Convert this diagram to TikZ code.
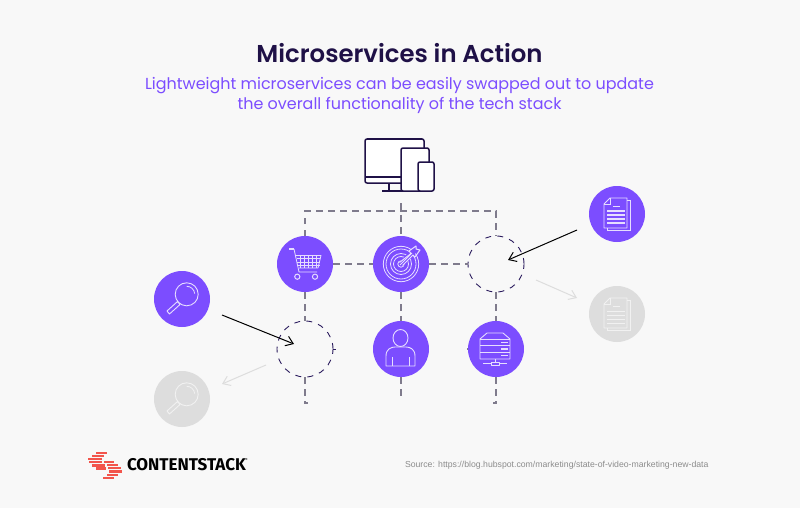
\documentclass[tikz,border=0pt]{standalone}
\usepackage{fontspec}
\setmainfont{Poppins}
\newfontfamily\logofont{Fira Sans}
\newfontfamily\srcfont{Liberation Sans}
\usetikzlibrary{arrows.meta}
\definecolor{bgc}{HTML}{F8F8F8}
\definecolor{titlec}{HTML}{1F1147}
\definecolor{subc}{HTML}{7C4DFF}
\definecolor{purp}{HTML}{7C4DFF}
\definecolor{grayc}{HTML}{DDDDDD}
\definecolor{dashc}{HTML}{7F7B8C}
\definecolor{ringc}{HTML}{2B1C5E}
\definecolor{iconl}{HTML}{E6DDFF}
\definecolor{iconx}{HTML}{F1F1F1}
\definecolor{redc}{HTML}{F2554C}
\tikzset{
  x=1pt,y=-1pt,
  svc/.style={circle,fill=purp,minimum size=56pt,inner sep=0pt,outer sep=0pt},
  ghost/.style={circle,fill=grayc,minimum size=56pt,inner sep=0pt,outer sep=0pt},
  ring/.style={circle,draw=ringc,line width=0.9pt,dash pattern=on 6pt off 6.2pt,minimum size=56pt,inner sep=0pt,outer sep=0pt},
  link/.style={draw=dashc,line width=1.25pt,dash pattern=on 6.5pt off 5.5pt},
  swapin/.style={draw=black,line width=1pt,-{Straight Barb[length=7pt,width=10pt,line width=1pt]}},
  swapout/.style={draw=grayc,line width=1pt,-{Straight Barb[length=7pt,width=10pt,line width=1pt]}},
  ico/.style={draw=iconl,line width=0.8pt,line join=round},
  dev/.style={draw=titlec,line width=1.5pt,fill=white,rounded corners=2pt},
  lbl/.style={inner sep=0pt,outer sep=0pt,anchor=center},
  stripe/.style={fill=redc,draw=none},
  pics/mag/.style args={#1}{code={
    \draw[draw=#1,line width=0.9pt] (4.7,-4.7) circle (11.5);
    \draw[draw=#1,line width=0.8pt] (4.7,-12.7) arc (-90:-5:8);
    \draw[draw=#1,line width=0.9pt,line join=round] (-4.5,2.5) -- (-15,12) -- (-12.5,15) -- (-2,5.5) -- cycle;
  }},
  pics/docu/.style args={#1/#2}{code={
    \draw[draw=#1,line width=0.8pt,line join=round] (-13,-10) -- (-7,-16) -- (10,-16) -- (10,14) -- (-13,14) -- cycle;
    \draw[draw=#1,line width=0.8pt] (-13,-10) -- (-7,-10) -- (-7,-16);
    \draw[draw=#1,line width=0.8pt] (10,-14) -- (13,-14) -- (13,16) -- (-10,16) -- (-10,14);
    \draw[draw=#1,line width=1pt] (-4,-8) -- (3,-8);
    \foreach \yy in {-3,1,5,9}{\draw[draw=#1,line width=#2] (-10,\yy) -- (8,\yy);}
  }}
}
\begin{document}
\begin{tikzpicture}
\useasboundingbox (0,0) rectangle (800,508);
\fill[bgc] (0,0) rectangle (800,508);

\node[lbl,text=titlec,font=\fontsize{24.4pt}{28pt}\selectfont\fontspec{Poppins SemiBold}] (title) at (399.5,53) {Microservices in Action};
\node[lbl,text=subc,font=\fontsize{15.96pt}{19pt}\selectfont] (sub1) at (399.5,86) {Lightweight microservices can be easily swapped out to update};
\node[lbl,text=subc,font=\fontsize{15.96pt}{19pt}\selectfont] (sub2) at (399.5,105) {the overall functionality of the tech stack};

% service nodes
\node[svc] (cart) at (305,264) {};
\node[svc] (target) at (401,264) {};
\node[ring] (slotA) at (496,264) {};
\node[ring] (slotB) at (305,349) {};
\node[svc] (person) at (401,349) {};
\node[svc] (server) at (496,349) {};
\node[svc] (docnew) at (617,214) {};
\node[svc] (magnew) at (182,299) {};
\node[ghost] (docold) at (617,314) {};
\node[ghost] (magold) at (182,399) {};

% device icon
\coordinate (devbase) at (401,203);
\draw[dev] (365,139) rectangle (424,183);
\draw[titlec,line width=1.5pt] (365,177) -- (401,177);
\draw[titlec,line width=1.5pt] (389,183) -- (389,191);
\draw[titlec,line width=1.5pt] (382,191) -- (420,191);
\draw[dev] (401,148) rectangle (429,191);
\draw[dev] (418,162) rectangle (434,191);

% connectors
\coordinate (tl) at (305,211);
\coordinate (tm) at (401,211);
\coordinate (tr) at (496,211);
\coordinate (endA) at (305,403);
\coordinate (endB) at (496,403);
\coordinate (endC) at (401,400);
\coordinate (tickA) at (336,349);
\coordinate (tickB) at (467,349);
\draw[link] (cart.north) -- (tl) -- (tm) -- (tr) -- (slotA.north);
\draw[link] (devbase) -- (tm) -- (target.north);
\draw[link] (cart.east) -- (target.west);
\draw[link] (target.east) -- (slotA.west);
\draw[link] (cart.south) -- (slotB.north);
\draw[link] (target.south) -- (person.north);
\draw[link] (slotA.south) -- (server.north);
\draw[link] (slotB.south) -- (endA) -- ++(3,0);
\draw[link] (person.south) -- (endC);
\draw[link] (server.south) -- (endB) -- ++(-3,0);
\draw[ringc,line width=0.9pt] (slotB.east) -- (tickA);
\draw[dashc,line width=1.2pt] (server.west) -- (tickB);

% cart icon
\begin{scope}[shift={(cart.center)}]
\draw[ico,line width=1.6pt] (-16,-15) -- (-11,-15);
\draw[ico] (-11,-15) -- (-6,8) -- (12,8);
\draw[ico] (-9.5,-8.5) -- (16,-8.5) -- (13,4) -- (-6.5,4);
\foreach \xx in {-5,-1,3,7,11}{\draw[ico,line width=0.7pt] (\xx,-8.5) -- (\xx,4);}
\foreach \yy in {-5.5,-2,1}{\draw[ico,line width=0.7pt] (-8,\yy) -- (15,\yy);}
\draw[ico,line width=1pt] (-7.7,12.7) circle (2.6);
\draw[ico,line width=1pt] (10,12.7) circle (2.6);
\end{scope}

% target icon
\begin{scope}[shift={(target.center)}]
\draw[ico] (0,0) circle (17.7);
\draw[ico] (0,0) circle (15);
\draw[ico] (0,0) circle (10.5);
\draw[ico] (0,0) circle (7.5);
\draw[ico] (0,0) circle (3.2);
\draw[purp,line width=5pt] (0,0) -- (14,-14);
\draw[ico,line width=1pt] (-1,1) -- (11,-11);
\draw[ico,line width=1pt] (1.5,1.5) -- (12,-9) -- (14,-7) -- (19,-14) -- (15,-15) -- (15,-18) -- (8,-13) -- (10,-10.5) -- (-1.5,-1.5);
\end{scope}

% person icon
\begin{scope}[shift={(person.center)}]
\draw[ico,line width=0.9pt] (-0.5,-11) ellipse (7.5 and 8.5);
\draw[ico,line width=0.9pt] (-15,17) -- (-15,7) .. controls (-15,0) and (-10,-2) .. (-6,-2) -- (5,-2) .. controls (9,-2) and (14,0) .. (14,7) -- (14,17) -- cycle;
\draw[ico] (-9,17) -- (-9,8);
\draw[ico] (8,17) -- (8,8);
\end{scope}

% server icon
\begin{scope}[shift={(server.center)}]
\draw[ico,line width=0.9pt] (-16,-10) -- (-9,-16) -- (7,-16) -- (14,-10) -- (14,10) -- (-16,10) -- cycle;
\draw[ico] (-16,-10) -- (14,-10);
\draw[ico] (-16,-3.5) -- (14,-3.5);
\draw[ico] (-16,3) -- (14,3);
\draw[ico,line width=1.6pt] (5,-6.7) -- (12,-6.7);
\draw[ico,line width=1.6pt] (5,-0.2) -- (12,-0.2);
\draw[ico,line width=1.6pt] (5,6.3) -- (12,6.3);
\draw[ico] (-1,10) -- (-1,13);
\draw[ico] (-5,13) rectangle (3,16);
\draw[ico] (-13,14.5) -- (-5,14.5);
\draw[ico] (3,14.5) -- (11,14.5);
\end{scope}

% swapped icons
\pic at (magnew.center) {mag={iconl}};
\pic at (magold.center) {mag={iconx}};
\pic at (docnew.center) {docu={iconl/1.9pt}};
\pic at (docold.center) {docu={iconx/0.8pt}};

% arrows
\coordinate (ainS) at (222,315);
\coordinate (ainE) at (294,344);
\coordinate (binS) at (577,230);
\coordinate (binE) at (508,260);
\coordinate (aoutS) at (266,365);
\coordinate (aoutE) at (222,384);
\coordinate (boutS) at (536,280);
\coordinate (boutE) at (577,298);
\draw[swapin] (ainS) -- (ainE);
\draw[swapin] (binS) -- (binE);
\draw[swapout] (aoutS) -- (aoutE);
\draw[swapout] (boutS) -- (boutE);

% logo
\foreach \xa/\xb/\yy in {96/107/452.7,92/104/455.7,88/102/458.7,89/102/462,92/105/465.3,96/106/468.3,
  104/114/462,107/118/465,108/121/468,109/122/471.3,107/118/474.7,103/114/478}{
  \fill[stripe] (\xa,\yy-1.2) rectangle (\xb,\yy+1.2);
}
\node[lbl,anchor=west,text=black,font=\fontsize{17pt}{19pt}\selectfont\logofont\bfseries] (logo) at (127,465) {CONTENTSTACK};
\node[lbl,anchor=west,text=black,font=\fontsize{4pt}{5pt}\selectfont\logofont] (tmk) at (245,460) {®};
\node[lbl,anchor=west,text=gray!90,font=\fontsize{8.7pt}{10pt}\selectfont\srcfont] (src) at (405,465) {Source: https://blog.hubspot.com/marketing/state-of-video-marketing-new-data};
\end{tikzpicture}
\end{document}
